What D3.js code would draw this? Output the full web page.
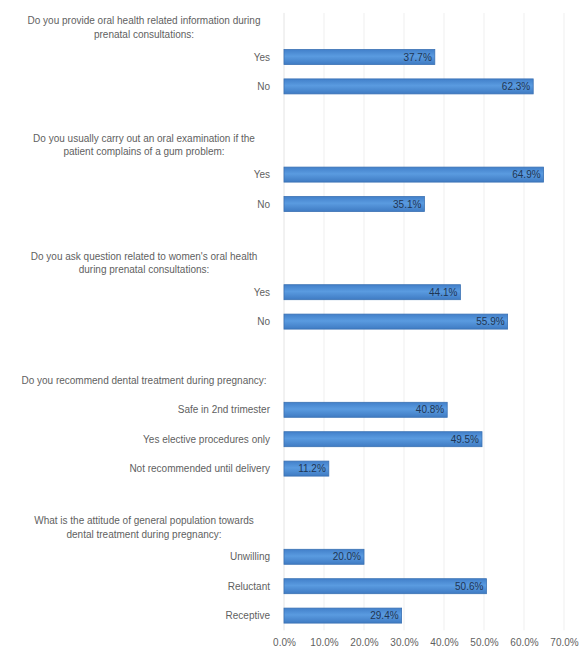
<!DOCTYPE html>
<html>
<head>
<meta charset="utf-8">
<script src="https://cdn.jsdelivr.net/npm/d3@7"></script>
<style>
  html, body { margin: 0; padding: 0; background: #ffffff; }
  svg { display: block; font-family: "Liberation Sans", Arial, sans-serif; }
</style>
</head>
<body>
<svg id="chart" width="582" height="650"></svg>
<script>
// Survey questions (multi-line headers) and their answer options, top to bottom.
const questions = [
  ["Do you provide oral health related information during", "prenatal consultations:"],
  ["Do you usually carry out an oral examination if the", "patient complains of a gum problem:"],
  ["Do you ask question related to women's oral health", "during prenatal consultations:"],
  ["Do you recommend dental treatment during pregnancy:"],
  ["What is the attitude of general population towards", "dental treatment during pregnancy:"]
];
const answers = [
  ["Yes", "No"],
  ["Yes", "No"],
  ["Yes", "No"],
  ["Safe in 2nd trimester", "Yes elective procedures only", "Not recommended until delivery"],
  ["Unwilling", "Reluctant", "Receptive"]
];
// Percentage of respondents for each answer.
const percents = [
  [37.7, 62.3],
  [64.9, 35.1],
  [44.1, 55.9],
  [40.8, 49.5, 11.2],
  [20.0, 50.6, 29.4]
];
const tickValues = [0, 10, 20, 30, 40, 50, 60, 70];

// Flatten into one category axis: question header, its answers, then a spacer row.
const rows = [];
questions.forEach((q, qi) => {
  rows.push({ key: "q" + qi, type: "header", lines: q });
  answers[qi].forEach((a, ai) => {
    rows.push({ key: "q" + qi + "a" + ai, type: "answer", label: a, value: percents[qi][ai] });
  });
  if (qi < questions.length - 1) rows.push({ key: "gap" + qi, type: "gap" });
});

const svg = d3.select("#chart");
const plotLeft = 284, plotRight = 564;
const plotTop = 12.9, plotBottom = 630.3;
const textColor = "#5f5f5f";
const fontSize = "10px";

const x = d3.scaleLinear().domain([0, 70]).range([plotLeft, plotRight]);
const y = d3.scaleBand().domain(rows.map(r => r.key))
  .range([plotTop, plotBottom]).paddingInner(0.49).paddingOuter(0.245);

const defs = svg.append("defs");
const grad = defs.append("linearGradient").attr("id", "barFill")
  .attr("x1", 0).attr("y1", 0).attr("x2", 0).attr("y2", 1);
grad.append("stop").attr("offset", "0%").attr("stop-color", "#4280ca");
grad.append("stop").attr("offset", "45%").attr("stop-color", "#5a9be0");
grad.append("stop").attr("offset", "100%").attr("stop-color", "#3f7bc3");

// Vertical gridlines
svg.append("g").selectAll("line").data(tickValues.slice(1)).join("line")
  .attr("x1", d => x(d)).attr("x2", d => x(d))
  .attr("y1", plotTop).attr("y2", plotBottom)
  .attr("stroke", "#efefef").attr("stroke-width", 1);

// Category axis line
svg.append("line")
  .attr("x1", x(0)).attr("x2", x(0)).attr("y1", plotTop).attr("y2", plotBottom)
  .attr("stroke", "#e4e4e4");

// Value axis
const xAxis = d3.axisBottom(x).tickValues(tickValues)
  .tickFormat(d => d3.format(".1f")(d) + "%").tickSize(0).tickPadding(0);
const gx = svg.append("g").attr("transform", `translate(0,${plotBottom + 9})`).call(xAxis);
gx.select(".domain").remove();
gx.selectAll("text").attr("fill", textColor).style("font-size", fontSize)
  .style("font-family", "'Liberation Sans', Arial, sans-serif");

const answerRows = rows.filter(r => r.type === "answer");
const barH = y.bandwidth();

// Bars
svg.append("g").selectAll("rect").data(answerRows).join("rect")
  .attr("x", x(0)).attr("y", d => y(d.key))
  .attr("width", d => x(d.value) - x(0)).attr("height", barH)
  .attr("fill", "url(#barFill)").attr("stroke", "#3a71b3").attr("stroke-width", 0.8);

// Value labels inside bar ends
svg.append("g").selectAll("text").data(answerRows).join("text")
  .attr("x", d => x(d.value) - 3).attr("y", d => y(d.key) + barH / 2)
  .attr("dy", "0.35em").attr("text-anchor", "end")
  .attr("fill", "#1f3553").style("font-size", fontSize)
  .text(d => d3.format(".1f")(d.value) + "%");

// Answer labels, right-aligned against the axis
svg.append("g").selectAll("text").data(answerRows).join("text")
  .attr("x", plotLeft - 14).attr("y", d => y(d.key) + barH / 2)
  .attr("dy", "0.35em").attr("text-anchor", "end")
  .attr("fill", textColor).style("font-size", fontSize)
  .text(d => d.label);

// Question headers, centred within the label area
const headerRows = rows.filter(r => r.type === "header");
const hg = svg.append("g").selectAll("text").data(headerRows).join("text")
  .attr("text-anchor", "middle").attr("fill", textColor).style("font-size", fontSize)
  .attr("transform", d => `translate(144,${y(d.key) + barH / 2})`);
hg.selectAll("tspan").data(d => d.lines.map((t, i) => ({ t, i, n: d.lines.length }))).join("tspan")
  .attr("x", 0)
  .attr("y", d => (d.i - (d.n - 1) / 2) * 13.5)
  .attr("dy", "0.35em")
  .text(d => d.t);
</script>
</body>
</html>
